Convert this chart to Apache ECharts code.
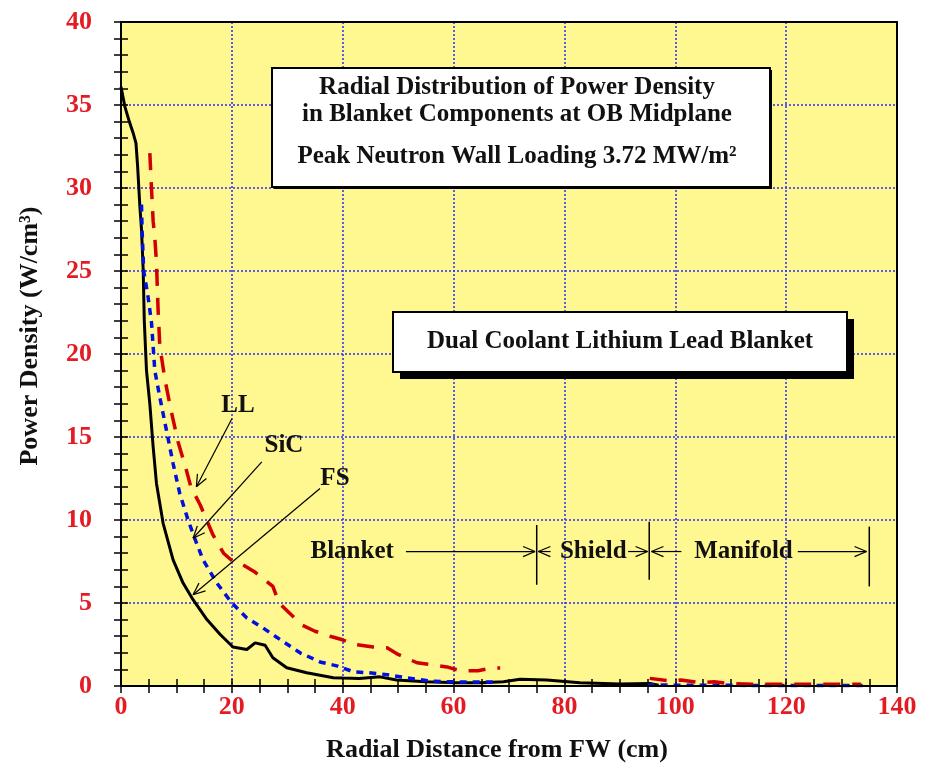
<!DOCTYPE html>
<html><head><meta charset="utf-8">
<script src="https://cdn.jsdelivr.net/npm/echarts/dist/echarts.min.js"></script>
<style>html,body{margin:0;padding:0;background:#fff}#c{width:928px;height:769px}</style>
</head><body><div id="c"></div>
<script>
// ---- data ----
const xTickLabels = [0, 20, 40, 60, 80, 100, 120, 140];
const yTickLabels = [0, 5, 10, 15, 20, 25, 30, 35, 40];

const fsX = [0, 0.7, 1.5, 2.2, 2.7, 3.0, 3.4, 3.7, 4.0, 4.2, 4.6, 5.2, 5.8, 6.4, 7.6, 9.4, 11.2, 13.0, 15.5, 17.9, 20.2, 22.7, 24.2, 26.0, 27.4, 29.9, 33.5, 38.3, 40, 43, 46.7, 49.7, 55, 60.6, 65, 69, 72, 76.8, 82.8, 90, 95.4, 97];
const fsY = [36.1, 34.9, 34.0, 33.3, 32.7, 31.3, 28.9, 27.5, 25.1, 22.0, 19.0, 17.0, 14.4, 12.2, 9.8, 7.6, 6.2, 5.2, 4.0, 3.1, 2.35, 2.2, 2.6, 2.45, 1.7, 1.1, 0.8, 0.5, 0.48, 0.45, 0.55, 0.36, 0.26, 0.2, 0.2, 0.26, 0.4, 0.36, 0.2, 0.12, 0.15, 0.05];

const sicX = [3.7, 3.8, 4.1, 4.9, 5.5, 6.1, 7.0, 8.2, 9.4, 10.6, 12.1, 13.3, 14.8, 17.3, 20, 22.7, 25.6, 28.7, 32.3, 35.9, 39.1, 41.9, 44.6, 47.6, 50.3, 53, 55.7, 58.8, 61.8, 64.5, 68, 80, 95, 100, 110, 120, 134.5];
const sicY = [29.0, 27.5, 25.0, 23.4, 21.9, 19.0, 17.4, 15.4, 13.4, 11.6, 10.0, 8.9, 7.6, 6.2, 5.0, 4.1, 3.5, 2.8, 2.0, 1.45, 1.2, 0.86, 0.8, 0.7, 0.56, 0.42, 0.3, 0.26, 0.24, 0.24, 0.24, null, 0.06, 0.05, 0.04, 0.03, 0.03];

const llX = [5.2, 5.5, 5.8, 6.1, 6.4, 6.7, 7.0, 7.9, 9.1, 10.3, 11.8, 12.6, 14.3, 16.6, 18.5, 20.2, 22, 24, 27.4, 28.5, 31, 32.5, 35, 37.7, 39.8, 42.2, 45.5, 48, 50, 53.4, 55.7, 58.8, 61.2, 64.4, 66.9, 68.4, 80, 95.4, 99, 101, 104.5, 107, 109.5, 114, 119, 123, 125, 128.5, 131, 133.5];
const llY = [32.1, 30.0, 28.0, 27.0, 25.5, 22.6, 20.5, 18.5, 16.5, 14.7, 13.0, 12.0, 10.9, 9.1, 8.0, 7.5, 7.3, 6.9, 6.0, 5.0, 4.2, 3.7, 3.3, 3.0, 2.8, 2.5, 2.35, 2.3, 1.9, 1.4, 1.3, 1.15, 0.92, 0.92, 1.08, 1.08, null, 0.46, 0.3, 0.36, 0.2, 0.25, 0.15, 0.1, 0.1, 0.1, 0.1, 0.1, 0.1, 0.1];

const pair = (xs, ys) => xs.map((x, i) => [x, ys[i] === null ? '-' : ys[i]]);

const FONT = '"Liberation Serif", "Times New Roman", serif';
const RED = '#e31b23';
const GRIDBLUE = '#2b2bff';

const chart = echarts.init(document.getElementById('c'), null, {renderer: 'canvas'});

function axisCommon(showLabel, showSplit) {
  return {
    axisLine: {show: true, lineStyle: {color: '#000', width: 2}},
    axisTick: {show: true, inside: true, length: 7, lineStyle: {color: '#000', width: 1.5}},
    minorTick: {show: true, length: 7, lineStyle: {color: '#000', width: 1.5}},
    splitLine: {show: showSplit, showMinLine: false, showMaxLine: false, lineStyle: {color: GRIDBLUE, width: 1.5, type: [2, 2]}},
    axisLabel: {show: showLabel, color: RED, fontFamily: FONT, fontWeight: 'bold', fontSize: 26}
  };
}

const xa0 = Object.assign(axisCommon(true, true), {type: 'value', min: 0, max: 140, interval: 20, position: 'bottom', gridIndex: 0});
xa0.minorTick.splitNumber = 4;
xa0.axisLabel.margin = 8;
xa0.axisLabel.formatter = v => xTickLabels.includes(v) ? String(v) : '';
const xa1 = Object.assign(axisCommon(false, false), {type: 'value', min: 0, max: 140, interval: 20, position: 'top', gridIndex: 0});
xa1.minorTick.splitNumber = 4;

const ya0 = Object.assign(axisCommon(true, true), {type: 'value', min: 0, max: 40, interval: 5, position: 'left', gridIndex: 0});
ya0.minorTick.splitNumber = 5;
ya0.axisLabel.margin = 29;
ya0.axisLabel.formatter = v => yTickLabels.includes(v) ? String(v) : '';
const ya1 = Object.assign(axisCommon(false, false), {type: 'value', min: 0, max: 40, interval: 5, position: 'right', gridIndex: 0});
ya1.minorTick.splitNumber = 5;

chart.setOption({
  animation: false,
  backgroundColor: '#ffffff',
  grid: {left: 121, top: 22, width: 776, height: 664, show: true, backgroundColor: '#fff78f', borderColor: '#000', borderWidth: 2},
  xAxis: [xa0, xa1],
  yAxis: [ya0, ya1],
  series: [
    {name: 'FS', type: 'line', data: pair(fsX, fsY), showSymbol: false, connectNulls: false, z: 3,
     lineStyle: {color: '#000', width: 3}},
    {name: 'SiC', type: 'line', data: pair(sicX, sicY), showSymbol: false, connectNulls: false, z: 4,
     lineStyle: {color: '#0010e0', width: 3.5, type: [7, 6]}},
    {name: 'LL', type: 'line', data: pair(llX, llY), showSymbol: false, connectNulls: false, z: 5,
     lineStyle: {color: '#d00000', width: 3.5, type: [17, 12]}}
  ]
});

// ---- annotations (positions in data coordinates) ----
const labelNotes = [
  {text: 'LL', at: [21.1, 16.9]},
  {text: 'SiC', at: [29.4, 14.5]},
  {text: 'FS', at: [38.6, 12.5]},
  {text: 'Blanket', at: [41.7, 8.1]},
  {text: 'Shield', at: [85.2, 8.1]},
  {text: 'Manifold', at: [112.3, 8.1]}
];
const arrowNotes = [
  {from: [20.0, 16.1], to: [13.6, 12.0]},
  {from: [25.4, 13.5], to: [13.0, 8.9]},
  {from: [35.9, 11.9], to: [13.0, 5.5]},
  {from: [51.4, 8.1], to: [74.7, 8.1]},
  {from: [77.5, 8.1], to: [75.3, 8.1]},
  {from: [91.5, 8.1], to: [95.0, 8.1]},
  {from: [101.1, 8.1], to: [95.7, 8.1]},
  {from: [122.1, 8.1], to: [134.5, 8.1]}
];
const barNotes = [
  {x: 75, y1: 6.1, y2: 9.7},
  {x: 95.3, y1: 6.4, y2: 9.9},
  {x: 135, y1: 6.0, y2: 9.6}
];

const px = p => chart.convertToPixel({xAxisIndex: 0, yAxisIndex: 0}, p);
const g = [];

// plot frame on top
g.push({type: 'rect', shape: {x: 121, y: 22, width: 776, height: 664}, style: {fill: null, stroke: '#000', lineWidth: 2}, z: 120, silent: true});

// title box
g.push({type: 'rect', shape: {x: 274, y: 70, width: 498, height: 119}, style: {fill: '#000'}, z: 100});
g.push({type: 'rect', shape: {x: 272, y: 68, width: 498, height: 119}, style: {fill: '#fff', stroke: '#000', lineWidth: 2}, z: 101});
const tStyle = (t, x, y) => ({type: 'text', z: 102, style: {text: t, x: x, y: y, font: 'bold 25px ' + FONT, fill: '#111', textAlign: 'center', textVerticalAlign: 'middle', align: 'center', verticalAlign: 'middle'}});
g.push(tStyle('Radial Distribution of Power Density', 517, 88));
g.push(tStyle('in Blanket Components at OB Midplane', 517, 115));
g.push(tStyle('Peak Neutron Wall Loading 3.72 MW/m²', 517, 157));

// blanket type box
g.push({type: 'rect', shape: {x: 400, y: 319, width: 454, height: 60}, style: {fill: '#000'}, z: 100});
g.push({type: 'rect', shape: {x: 393, y: 312, width: 454, height: 60}, style: {fill: '#fff', stroke: '#000', lineWidth: 2}, z: 101});
g.push(tStyle('Dual Coolant Lithium Lead Blanket', 620, 342));

labelNotes.forEach(n => {
  const p = px(n.at);
  g.push(tStyle(n.text, p[0], p[1]));
});
arrowNotes.forEach(a => {
  const p1 = px(a.from), p2 = px(a.to);
  g.push({type: 'line', z: 90, shape: {x1: p1[0], y1: p1[1], x2: p2[0], y2: p2[1]}, style: {stroke: '#000', lineWidth: 1.2}});
  const ang = Math.atan2(p1[1] - p2[1], p1[0] - p2[0]);
  [0.4, -0.4].forEach(d => {
    g.push({type: 'line', z: 90, shape: {x1: p2[0], y1: p2[1], x2: p2[0] + 13 * Math.cos(ang + d), y2: p2[1] + 13 * Math.sin(ang + d)}, style: {stroke: '#000', lineWidth: 1.2}});
  });
});
barNotes.forEach(b => {
  const p1 = px([b.x, b.y1]), p2 = px([b.x, b.y2]);
  g.push({type: 'line', z: 90, shape: {x1: p1[0], y1: p1[1], x2: p2[0], y2: p2[1]}, style: {stroke: '#000', lineWidth: 1.5}});
});

// axis titles
g.push({type: 'text', z: 102, style: {text: 'Radial Distance from FW (cm)', x: 497, y: 750, font: 'bold 26px ' + FONT, fill: '#111', textAlign: 'center', textVerticalAlign: 'middle', align: 'center', verticalAlign: 'middle'}});
g.push({type: 'text', z: 102, x: 30, y: 336, rotation: Math.PI / 2, style: {text: 'Power Density (W/cm³)', x: 0, y: 0, font: 'bold 26px ' + FONT, fill: '#111', textAlign: 'center', textVerticalAlign: 'middle', align: 'center', verticalAlign: 'middle'}});

chart.setOption({graphic: g});
</script>
</body></html>
